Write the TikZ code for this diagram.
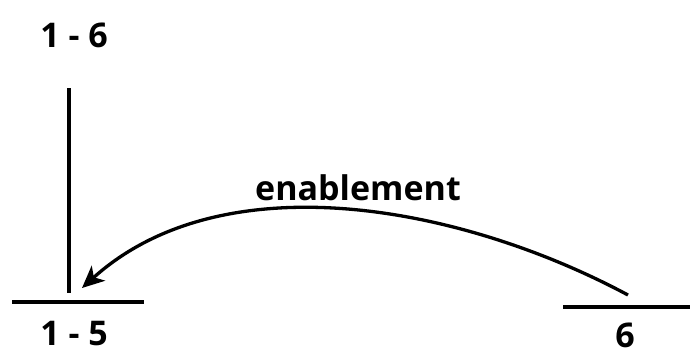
\documentclass[tikz,border=0pt]{standalone}
\usepackage{fontspec}
\setmainfont{Open Sans}
\usetikzlibrary{arrows.meta}
\begin{document}
\begin{tikzpicture}[x=1pt,y=-1pt,
  lbl/.style={font=\fontsize{34}{40}\selectfont\bfseries, inner sep=0pt},
  bar/.style={line width=3.3pt},
  conn/.style={line width=3.3pt, -{Stealth[length=22pt,width=20pt,inset=6pt]}}]
\useasboundingbox (0,0) rectangle (690,354);
\node[lbl] (l16) at (74,35) {1 - 6};
\node[lbl] (l15) at (74,334) {1 - 5};
\node[lbl] (l6) at (625,335) {6};
\node[lbl] (en) at (358,188) {enablement};
\coordinate (vtop) at (69,88);
\coordinate (vbot) at (69,293);
\coordinate (ha) at (12,302);
\coordinate (hb) at (144,302);
\coordinate (ra) at (563,307);
\coordinate (rb) at (690,307);
\coordinate (cs) at (628,295);
\coordinate (ce) at (82,288);
\draw[bar] (vtop) -- (vbot);
\draw[bar] (ha) -- (hb);
\draw[bar] (ra) -- (rb);
\draw[conn] (cs) .. controls (460,205) and (223,161) .. (ce);
\end{tikzpicture}
\end{document}
